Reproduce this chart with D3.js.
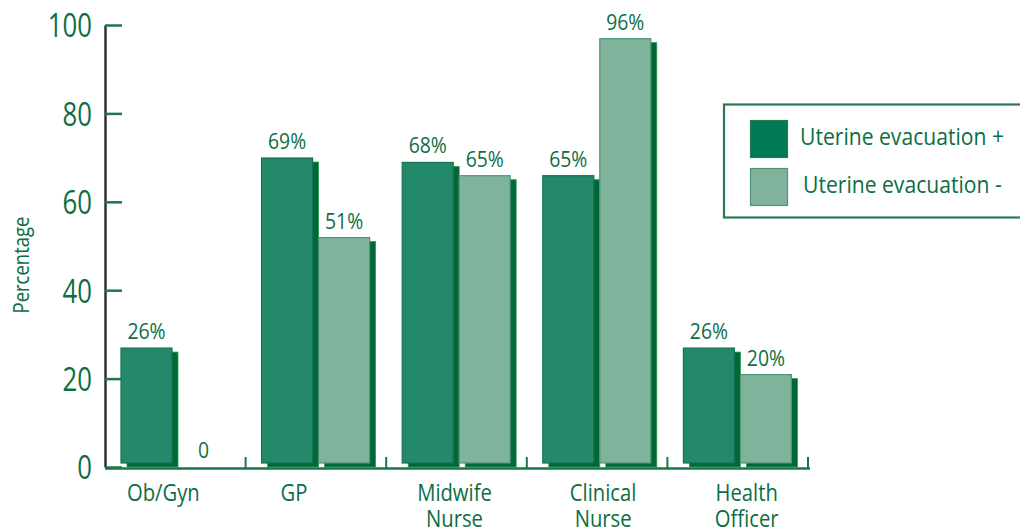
<!DOCTYPE html>
<html>
<head>
<meta charset="utf-8">
<script src="https://cdn.jsdelivr.net/npm/d3@7"></script>
<style>
  html, body { margin: 0; padding: 0; background: #ffffff; }
  svg { display: block; }
  text { font-family: "Open Sans", "Noto Sans", sans-serif; fill: #0c6e44; }
</style>
</head>
<body>
<svg id="chart" width="1020" height="529"></svg>
<script>
// Provider types and the share (%) for each uterine-evacuation group
const categories = ["Ob/Gyn", "GP", "Midwife Nurse", "Clinical Nurse", "Health Officer"];
const categoryLines = [["Ob/Gyn"], ["GP"], ["Midwife", "Nurse"], ["Clinical", "Nurse"], ["Health", "Officer"]];
const seriesNames = ["Uterine evacuation +", "Uterine evacuation -"];
const evacuationPlus = [26, 69, 68, 65, 26];
const evacuationMinus = [0, 51, 65, 96, 20];
const yTicks = [0, 20, 40, 60, 80, 100];

// Layout and style
const labelNudge = [-12, -22, -2, 6, 9];
const colors = { plus: "#24886a", minus: "#80b39c", plusEdge: "#157352", minusEdge: "#4f9478",
                 shadow: "#006837", shadowEdge: "#2c9c52", text: "#0c6e44", axis: "#2b2b2b",
                 swatchPlus: "#007a56" };
const squeeze = 0.88;

const svg = d3.select("#chart");
const y = d3.scaleLinear().domain([0, 100]).range([467, 25]);
const x = d3.scaleBand().domain(categories).range([105, 808]).padding(0);
const xs = d3.scaleBand().domain(seriesNames).range([16, 124]).paddingInner(6 / 57).paddingOuter(0);

const rows = categories.map((c, i) => ({ cat: c, vals: [evacuationPlus[i], evacuationMinus[i]] }));

function label(parent, px, py, str, size, anchor, sx, fill) {
  const g = parent.append("g").attr("transform", `translate(${px},${py})`);
  g.append("text")
    .attr("transform", `scale(${sx},1)`)
    .attr("text-anchor", anchor)
    .style("font-size", size + "px")
    .style("fill", fill || colors.text)
    .text(str);
  return g;
}

// Y axis: dark spine, green ticks pointing into the plot
const yAxis = d3.axisLeft(y).tickValues(yTicks).tickSize(-17).tickSizeOuter(0).tickPadding(13);
const yg = svg.append("g").attr("transform", "translate(105,0)").call(yAxis);
yg.select(".domain").attr("stroke", colors.axis).attr("stroke-width", 2.4);
yg.selectAll(".tick line").attr("stroke", "#1b7a4c").attr("stroke-width", 2.5);
yg.selectAll(".tick text")
  .attr("x", -13 / 0.78)
  .attr("dy", "0.36em")
  .attr("transform", "scale(0.78,1)")
  .style("font-size", "33px")
  .style("fill", colors.text)
  .style("font-family", "'Open Sans', sans-serif");

// Y axis title
label(svg.append("g").attr("transform", "translate(29,265) rotate(-90)"), 0, 0, "Percentage", 21, "middle", squeeze);

// Shadows sit at the true value; the bars are lifted up and to the left
const groups = svg.append("g").selectAll("g.cat").data(rows).join("g")
  .attr("class", "cat")
  .attr("transform", d => `translate(${x(d.cat)},0)`);

groups.selectAll("rect.shadow")
  .data(d => d.vals.map((v, k) => ({ v, s: seriesNames[k], k })).filter(e => e.v > 0))
  .join("rect")
  .attr("class", "shadow")
  .attr("x", e => xs(e.s) + 6)
  .attr("y", e => y(e.v))
  .attr("width", xs.bandwidth())
  .attr("height", e => y(0) - y(e.v))
  .attr("fill", colors.shadow)
  .attr("stroke", colors.shadowEdge)
  .attr("stroke-width", 0.8);

groups.selectAll("rect.bar")
  .data(d => d.vals.map((v, k) => ({ v, s: seriesNames[k], k })).filter(e => e.v > 0))
  .join("rect")
  .attr("class", "bar")
  .attr("x", e => xs(e.s))
  .attr("y", e => y(e.v) - 4)
  .attr("width", xs.bandwidth())
  .attr("height", e => y(0) - y(e.v))
  .attr("fill", e => e.k === 0 ? colors.plus : colors.minus)
  .attr("stroke", e => e.k === 0 ? colors.plusEdge : colors.minusEdge)
  .attr("stroke-width", 1.2);

// Value labels
rows.forEach(r => {
  const g = svg.append("g").attr("transform", `translate(${x(r.cat)},0)`);
  r.vals.forEach((v, k) => {
    const cx = xs(seriesNames[k]) + xs.bandwidth() / 2;
    const txt = v === 0 ? "0" : v + "%";
    const py = v === 0 ? y(0) - 9 : y(v) - 13;
    label(g, cx, py, txt, 22, "middle", squeeze);
  });
});

// X axis baseline with separators between categories
const xa = svg.append("g");
xa.append("line")
  .attr("x1", x.range()[0]).attr("x2", x.range()[1] + 2)
  .attr("y1", y(0) + 1.5).attr("y2", y(0) + 1.5)
  .attr("stroke", "#17764a").attr("stroke-width", 2.5);
xa.selectAll("line.sep").data(categories).join("line")
  .attr("class", "sep")
  .attr("x1", d => x(d) + x.bandwidth()).attr("x2", d => x(d) + x.bandwidth())
  .attr("y1", y(0) - 10).attr("y2", y(0) + 1.5)
  .attr("stroke", "#17764a").attr("stroke-width", 2);

// Category labels
categories.forEach((c, i) => {
  const cx = x(c) + x.bandwidth() / 2 + labelNudge[i];
  categoryLines[i].forEach((ln, j) => label(svg, cx, 501 + j * 26, ln, 23, "middle", squeeze));
});

// Legend
const lg = svg.append("g");
lg.append("rect").attr("x", 724).attr("y", 104.5).attr("width", 320).attr("height", 113)
  .attr("fill", "#ffffff").attr("stroke", "#2a7a50").attr("stroke-width", 2.2);
const swatch = [colors.swatchPlus, colors.minus];
const swEdge = ["#2a7a50", "#4f9478"];
seriesNames.forEach((s, k) => {
  lg.append("rect").attr("x", 750.5).attr("y", 120.5 + k * 48).attr("width", 37).attr("height", 37)
    .attr("fill", swatch[k]).attr("stroke", swEdge[k]).attr("stroke-width", 1.2);
  label(lg, 800 + k * 3, 145 + k * 48, s, 24, "start", squeeze);
});
</script>
</body>
</html>
